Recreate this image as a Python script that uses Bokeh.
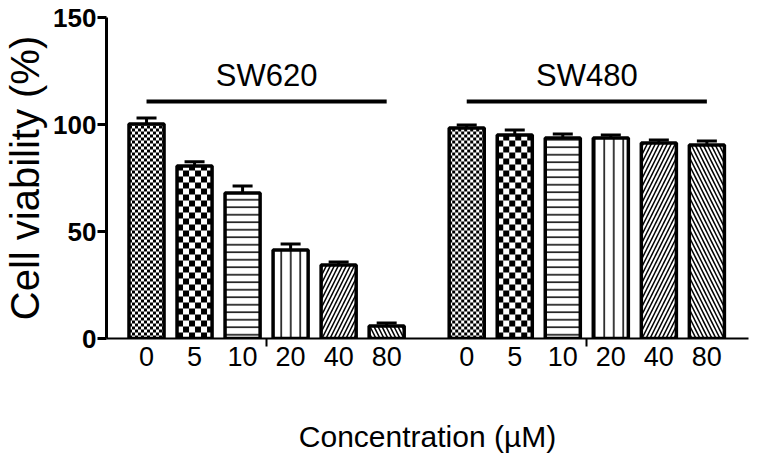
import math
from bokeh.plotting import figure
from bokeh.models import ColumnDataSource, FixedTicker, Range1d, Whisker, TeeHead
from bokeh.core.properties import value
from bokeh.embed import file_html
from bokeh.resources import INLINE

# ---- data ----
groups = ["SW620", "SW480"]
concentrations = ["0", "5", "10", "20", "40", "80"]
sw620_mean = [100.2, 80.6, 68.0, 41.4, 34.3, 5.8]
sw620_err = [2.8, 2.0, 3.3, 2.8, 1.4, 1.4]
sw480_mean = [98.4, 95.1, 93.7, 93.7, 91.4, 90.4]
sw480_err = [1.4, 2.3, 1.9, 1.4, 1.4, 1.9]
y_ticks = [0, 50, 100, 150]

# ---- styling ----
FONT = "Liberation Sans"
FRAME_W, FRAME_H = 642, 321
X0, X1 = -2.5, 37.6
Y0, Y1 = 0, 150
PX_X = FRAME_W / (X1 - X0)
PX_Y = FRAME_H / (Y1 - Y0)
slot = 3          # spacing between bars (x units)
group_gap = 5     # spacing between last bar of a group and first of the next
bar_w = 2.19
patterns = ["fine", "coarse", "horizontal_line", "vertical_line",
            "right_diagonal_line", "left_diagonal_line"]
checker_px = {"fine": 3, "coarse": 6}
scales = [6, 12, 7.5, 9.5, 8, 8]
weights = [1, 1, 1.5, 1.5, 1.5, 1.5]

xs, tops, errs, pats, scs, wts, labels = [], [], [], [], [], [], []
group_centers, group_spans = [], []
start = 0
for means, es in [(sw620_mean, sw620_err), (sw480_mean, sw480_err)]:
    gx = [start + i * slot for i in range(len(concentrations))]
    xs += gx
    tops += means
    errs += es
    pats += patterns
    scs += scales
    wts += weights
    labels += concentrations
    group_centers.append((gx[0] + gx[-1]) / 2)
    group_spans.append((gx[0], gx[-1]))
    start = gx[-1] + group_gap

hatch = [" " if pt in checker_px else pt for pt in pats]
src = ColumnDataSource(dict(
    x=xs, top=tops, upper=[t + e for t, e in zip(tops, errs)],
    pat=hatch, sc=scs, wt=wts))

# checkerboard squares for the chequered bars, derived from the bar values
ql, qr, qb, qt = [], [], [], []
for x, top, pt in zip(xs, tops, pats):
    if pt not in checker_px:
        continue
    sx = checker_px[pt] / PX_X
    sy = checker_px[pt] / PX_Y
    left, right = x - bar_w / 2, x + bar_w / 2
    ncol = math.ceil(bar_w / sx)
    nrow = math.ceil(top / sy)
    for i in range(ncol):
        for j in range(nrow):
            if (i + j) % 2:
                continue
            ql.append(left + i * sx)
            qr.append(min(left + (i + 1) * sx, right))
            qb.append(j * sy)
            qt.append(min((j + 1) * sy, top))

p = figure(frame_width=FRAME_W, frame_height=FRAME_H, output_backend="svg",
           toolbar_location=None, x_range=Range1d(X0, X1),
           y_range=Range1d(Y0, Y1), min_border_left=104, min_border_top=17,
           min_border_right=8, min_border_bottom=10)
p.background_fill_color = "white"
p.border_fill_color = "white"
p.outline_line_color = None
p.xgrid.visible = False
p.ygrid.visible = False

# error bars (upper only)
w = Whisker(source=src, base="x", lower="top", upper="upper",
            line_color="black", line_width=3,
            upper_head=TeeHead(size=20, line_width=3, line_color="black"),
            lower_head=None)
p.add_layout(w)

p.vbar(x="x", top="top", width=bar_w, source=src, fill_color="white",
       line_color=None, hatch_pattern="pat",
       hatch_scale="sc", hatch_weight="wt", hatch_color="black")
p.quad(left=ql, right=qr, bottom=qb, top=qt, fill_color="black",
       line_color=None)
p.vbar(x="x", top="top", width=bar_w, source=src, fill_alpha=0,
       line_color="black", line_width=3.5)

# group brackets and labels
for g, (a, b), c in zip(groups, group_spans, group_centers):
    p.segment(x0=[a], y0=[110.7], x1=[b], y1=[110.7], line_color="black",
              line_width=4)
    p.text(x=[c], y=[123], text=[g], text_align="center",
           text_baseline="middle", text_font=value(FONT),
           text_font_size="31px", text_color="black")

# axes
xa = p.xaxis[0]
xa.ticker = FixedTicker(ticks=xs, minor_ticks=group_centers)
xa.major_label_overrides = {x: l for x, l in zip(xs, labels)}
xa.major_tick_line_color = None
xa.minor_tick_in = 0
xa.minor_tick_out = 8
xa.minor_tick_line_width = 2
xa.minor_tick_line_color = "black"
xa.axis_line_width = 2
xa.axis_line_color = "black"
xa.major_label_text_font = FONT
xa.major_label_text_font_size = "27px"
xa.major_label_text_color = "black"
xa.major_label_standoff = 0
xa.axis_label = "Concentration (µM)"
xa.axis_label_text_font = FONT
xa.axis_label_text_font_size = "30px"
xa.axis_label_text_font_style = "normal"
xa.axis_label_text_color = "black"
xa.axis_label_standoff = 51

ya = p.yaxis[0]
ya.ticker = FixedTicker(ticks=y_ticks)
ya.axis_line_width = 3
ya.axis_line_color = "black"
ya.major_tick_in = 0
ya.major_tick_out = 9
ya.major_tick_line_width = 3
ya.major_tick_line_color = "black"
ya.minor_tick_line_color = None
ya.major_label_text_font = FONT
ya.major_label_text_font_size = "26px"
ya.major_label_text_font_style = "bold"
ya.major_label_text_color = "black"
ya.major_label_standoff = 1
ya.axis_label = "Cell viability (%)"
ya.axis_label_text_font = FONT
ya.axis_label_text_font_size = "40px"
ya.axis_label_text_font_style = "normal"
ya.axis_label_text_color = "black"
ya.axis_label_standoff = 3

open("out.html", "w").write(file_html(p, INLINE))
